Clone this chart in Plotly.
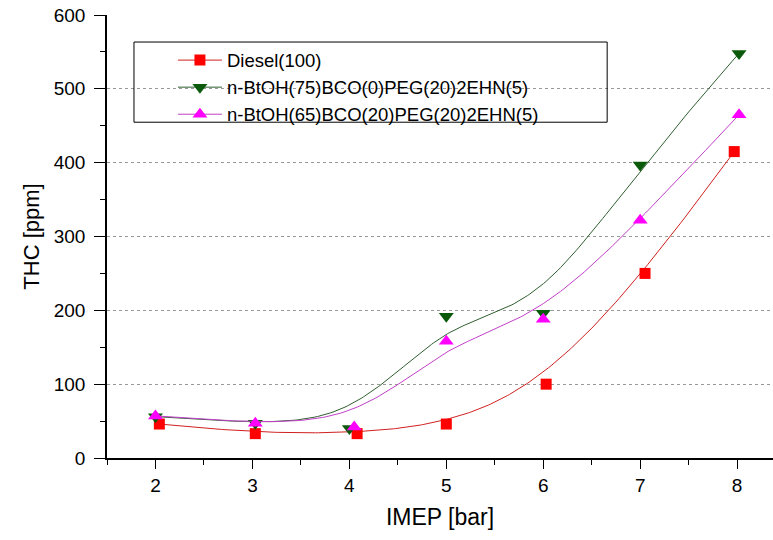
import numpy as np
import plotly.graph_objects as go

# Data
diesel_x = [2.04, 3.03, 4.08, 5.0, 6.03, 7.05, 7.97]
diesel_y = [46, 33, 33, 46, 100, 250, 415]
btoh75_x = [2.0, 3.03, 4.0, 5.0, 6.0, 7.0, 8.02]
btoh75_y = [56, 47, 40, 192, 196, 397, 548]
btoh65_x = [2.0, 3.03, 4.05, 5.0, 6.0, 7.0, 8.02]
btoh65_y = [57, 47, 42, 158, 188, 322, 465]

names = ["Diesel(100)", "n-BtOH(75)BCO(0)PEG(20)2EHN(5)", "n-BtOH(65)BCO(20)PEG(20)2EHN(5)"]
x_ticks = [2, 3, 4, 5, 6, 7, 8]


def bspline(px, py, n=200):
    """Clamped cubic B-spline using the data points as control points."""
    P = np.column_stack([px, py]).astype(float)
    k = 3
    m = len(P)
    inner = np.arange(1, m - k)
    knots = np.concatenate([[0] * (k + 1), inner, [m - k] * (k + 1)]).astype(float)
    ts = np.linspace(0, m - k, n)
    out = []
    for t in ts:
        if t >= knots[m]:
            s = m - 1
        else:
            s = np.searchsorted(knots, t, side="right") - 1
        d = [P[j + s - k].copy() for j in range(k + 1)]
        for r in range(1, k + 1):
            for j in range(k, r - 1, -1):
                i = j + s - k
                denom = knots[i + k + 1 - r] - knots[i]
                a = 0 if denom == 0 else (t - knots[i]) / denom
                d[j] = (1 - a) * d[j - 1] + a * d[j]
        out.append(d[k])
    out = np.array(out)
    return out[:, 0], out[:, 1]


series = [
    (diesel_x, diesel_y, names[0], "#ff0000", "#d02020", "square", 11),
    (btoh75_x, btoh75_y, names[1], "#0b5a0b", "#2f5f2f", "triangle-down", 13),
    (btoh65_x, btoh65_y, names[2], "#ff00ff", "#c040c8", "triangle-up", 13),
]

fig = go.Figure()
for x, y, name, mc, lc, sym, ms in series:
    cx, cy = bspline(x, y)
    fig.add_trace(go.Scatter(x=cx, y=cy, mode="lines", line=dict(color=lc, width=1),
                             showlegend=False, hoverinfo="skip"))
    fig.add_trace(go.Scatter(x=x, y=y, mode="markers", name=name, showlegend=False,
                             marker=dict(symbol=sym, size=ms, color=mc, line=dict(width=0))))
for x, y, name, mc, lc, sym, ms in series:
    fig.add_trace(go.Scatter(x=[None], y=[None], mode="lines+markers", name=name,
                             line=dict(color=lc, width=1),
                             marker=dict(symbol=sym, size=ms, color=mc, line=dict(width=0))))

# legend frame
fig.add_shape(type="rect", xref="paper", yref="paper",
              x0=0.0405, x1=0.751, y0=0.758, y1=0.939,
              line=dict(color="black", width=1), fillcolor="rgba(0,0,0,0)", layer="above")

fig.update_layout(
    width=773, height=540,
    margin=dict(l=107, r=0, t=15, b=82),
    paper_bgcolor="white", plot_bgcolor="white",
    font=dict(family="Liberation Sans, Arial, sans-serif", color="black"),
    showlegend=True,
    legend=dict(x=0.099, y=0.94, xanchor="left", yanchor="top",
                borderwidth=0, bgcolor="rgba(255,255,255,0)",
                font=dict(size=18.5, color="black"), itemwidth=44),
    xaxis=dict(range=[1.5, 8.37], tickvals=x_ticks,
               ticks="outside", ticklen=9, tickwidth=1.2, tickcolor="black",
               minor=dict(dtick=0.5, tick0=1.5, ticks="outside", ticklen=5, tickcolor="black"),
               showline=True, linecolor="black", linewidth=1.5, showgrid=False, zeroline=False,
               tickfont=dict(size=19),
               title=dict(text="IMEP [bar]", font=dict(size=23), standoff=14)),
    yaxis=dict(range=[0, 600], dtick=100, ticks="outside", ticklen=11, tickwidth=1.2,
               tickcolor="black",
               minor=dict(dtick=50, ticks="outside", ticklen=5, tickcolor="black"),
               showline=True, linecolor="black", linewidth=1.5,
               showgrid=True, gridcolor="#999999", griddash="dot", gridwidth=1, zeroline=False,
               tickfont=dict(size=19), ticklabelstandoff=5,
               title=dict(text="THC [ppm]", font=dict(size=22), standoff=8)),
)

fig.write_html("out.html")
